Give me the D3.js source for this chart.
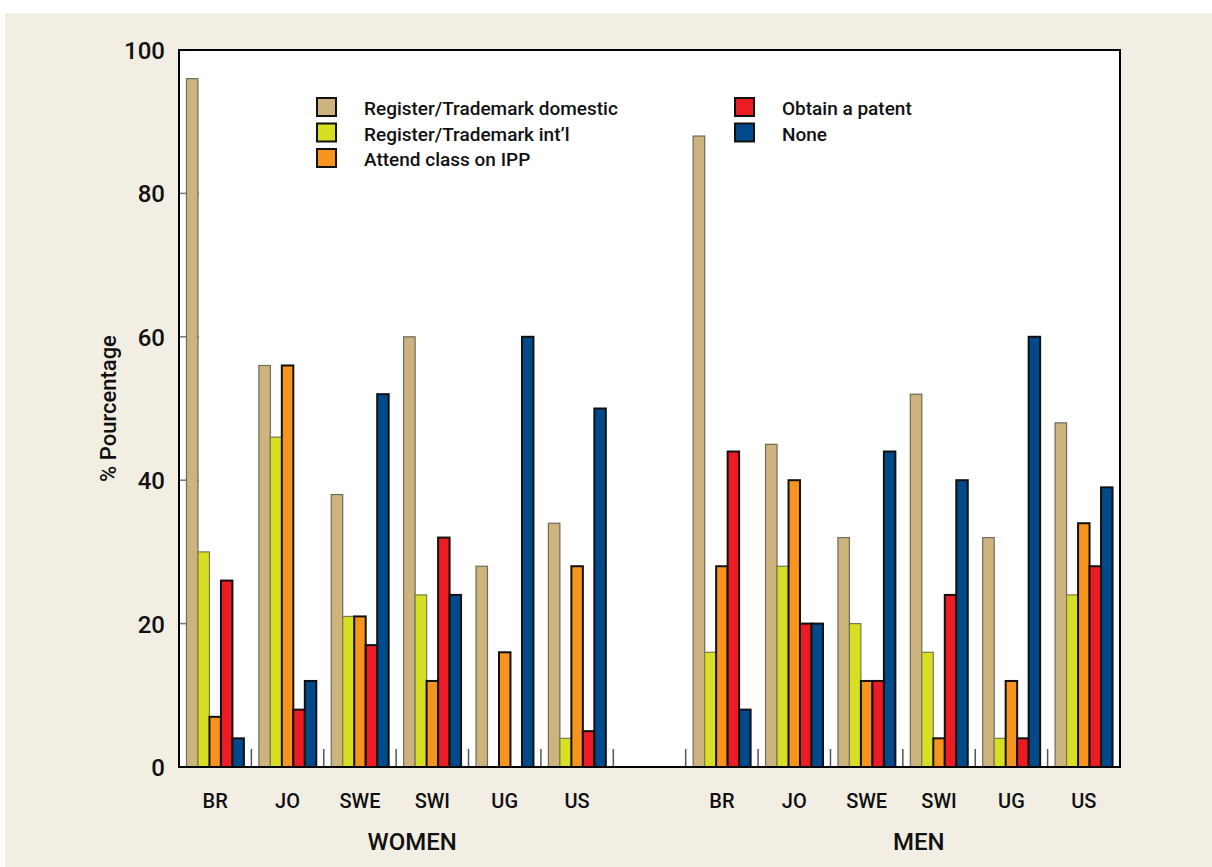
<!DOCTYPE html>
<html>
<head>
<meta charset="utf-8">
<script src="https://cdn.jsdelivr.net/npm/d3@7"></script>
<style>
  body { margin: 0; background: #fff; }
  svg text { font-family: Roboto, "DejaVu Sans Condensed", sans-serif; font-weight: 500; fill: #111; }
</style>
</head>
<body>
<div id="chart"></div>
<script>
// Data.
const countries = ["BR", "JO", "SWE", "SWI", "UG", "US"];
const groups = ["WOMEN", "MEN"];
const seriesNames = [
  "Register/Trademark domestic",
  "Register/Trademark int\u2019l",
  "Attend class on IPP",
  "Obtain a patent",
  "None"
];
const seriesColors = ["#cdb47f", "#d7df23", "#f7941d", "#ed1c24", "#004a8b"];
const seriesStroke = ["#6e6a5c", "#7a7a50", "#111", "#111", "#111"];
// one row per country, one value per series
const womenValues = [
  [96, 30, 7, 26, 4],
  [56, 46, 56, 8, 12],
  [38, 21, 21, 17, 52],
  [60, 24, 12, 32, 24],
  [28, 0, 16, 0, 60],
  [34, 4, 28, 5, 50]
];
const menValues = [
  [88, 16, 28, 44, 8],
  [45, 28, 40, 20, 20],
  [32, 20, 12, 12, 44],
  [52, 16, 4, 24, 40],
  [32, 4, 12, 4, 60],
  [48, 24, 34, 28, 39]
];
const yTicks = [0, 20, 40, 60, 80, 100];

const width = 1212, height = 867;
const m = { top: 50, right: 92, bottom: 100, left: 179 };
const iW = width - m.left - m.right, iH = height - m.top - m.bottom;

// 13 slots: six women, one empty gap, six men.
const slots = [
  ...countries.map((c) => `W-${c}`),
  "gap",
  ...countries.map((c) => `M-${c}`)
];
const rows = [
  ...countries.map((c, i) => ({ key: `W-${c}`, label: c, vals: womenValues[i] })),
  ...countries.map((c, i) => ({ key: `M-${c}`, label: c, vals: menValues[i] }))
];

const x0 = d3.scaleBand(slots, [0, iW]);
const x1 = d3.scaleBand(d3.range(seriesNames.length), [0, x0.bandwidth()]).paddingOuter(0.65);
const y = d3.scaleLinear([0, 100], [iH, 0]);

const svg = d3.select("#chart").append("svg")
  .attr("width", width).attr("height", height);

svg.append("rect").attr("x", 5).attr("y", 13).attr("width", width - 5).attr("height", height - 13)
  .attr("fill", "#f2eee3");

const g = svg.append("g").attr("transform", `translate(${m.left},${m.top})`);
g.append("rect").attr("width", iW).attr("height", iH).attr("fill", "#fff");

// inward y ticks
g.append("g").selectAll("line").data(yTicks.slice(1, -1)).join("line")
  .attr("x1", 0).attr("x2", 20).attr("y1", (d) => y(d)).attr("y2", (d) => y(d))
  .attr("stroke", "#777").attr("stroke-width", 1.5);

// slot separators at the bottom
g.append("g").selectAll("line").data(slots.slice(1)).join("line")
  .attr("x1", (d) => x0(d)).attr("x2", (d) => x0(d))
  .attr("y1", iH - 18).attr("y2", iH)
  .attr("stroke", "#555").attr("stroke-width", 1.5);

// bars
const grp = g.selectAll("g.slot").data(rows).join("g")
  .attr("class", "slot")
  .attr("transform", (d) => `translate(${x0(d.key)},0)`);
grp.selectAll("rect").data((d) => d.vals.map((v, i) => ({ v, i }))).join("rect")
  .attr("x", (d) => x1(d.i))
  .attr("width", x1.bandwidth())
  .attr("y", (d) => y(d.v))
  .attr("height", (d) => iH - y(d.v))
  .attr("fill", (d) => seriesColors[d.i])
  .attr("stroke", (d) => seriesStroke[d.i])
  .attr("stroke-width", (d) => (d.i < 2 ? 1.2 : 2))
  .style("display", (d) => (d.v > 0 ? null : "none"));

// frame
g.append("rect").attr("width", iW).attr("height", iH)
  .attr("fill", "none").attr("stroke", "#000").attr("stroke-width", 2);

// y tick labels
g.append("g").selectAll("text").data(yTicks).join("text")
  .attr("x", -14).attr("y", (d) => y(d) + 9)
  .attr("text-anchor", "end").attr("font-size", 24)
  .text((d) => d);

// x tick labels
g.append("g").selectAll("text").data(rows).join("text")
  .attr("x", (d) => x0(d.key) + x0.bandwidth() / 2)
  .attr("y", iH + 41)
  .attr("text-anchor", "middle").attr("font-size", 20)
  .text((d) => d.label);

// group labels
const groupCenters = [
  (x0(`W-${countries[0]}`) + x0(`W-${countries[5]}`) + x0.bandwidth()) / 2,
  (x0(`M-${countries[0]}`) + x0(`M-${countries[5]}`) + x0.bandwidth()) / 2
];
g.append("g").selectAll("text").data(groups).join("text")
  .attr("x", (d, i) => groupCenters[i] + 16)
  .attr("y", iH + 83)
  .attr("text-anchor", "middle").attr("font-size", 24)
  .text((d) => d);

// y axis title
svg.append("text")
  .attr("transform", `translate(116,${m.top + iH / 2}) rotate(-90)`)
  .attr("text-anchor", "middle").attr("font-size", 22)
  .text("% Pourcentage");

// legend: two columns
const legendCols = [
  { x: 317, items: [0, 1, 2] },
  { x: 735, items: [3, 4] }
];
legendCols.forEach((col) => {
  const lg = svg.append("g");
  col.items.forEach((s, r) => {
    const cy = 107 + r * 25.5;
    lg.append("rect").attr("x", col.x).attr("y", cy - 9).attr("width", 19).attr("height", 18)
      .attr("fill", seriesColors[s]).attr("stroke", "#111").attr("stroke-width", 2);
    lg.append("text").attr("x", col.x + 47).attr("y", cy + 8)
      .attr("font-size", 19).text(seriesNames[s]);
  });
});
</script>
</body>
</html>
